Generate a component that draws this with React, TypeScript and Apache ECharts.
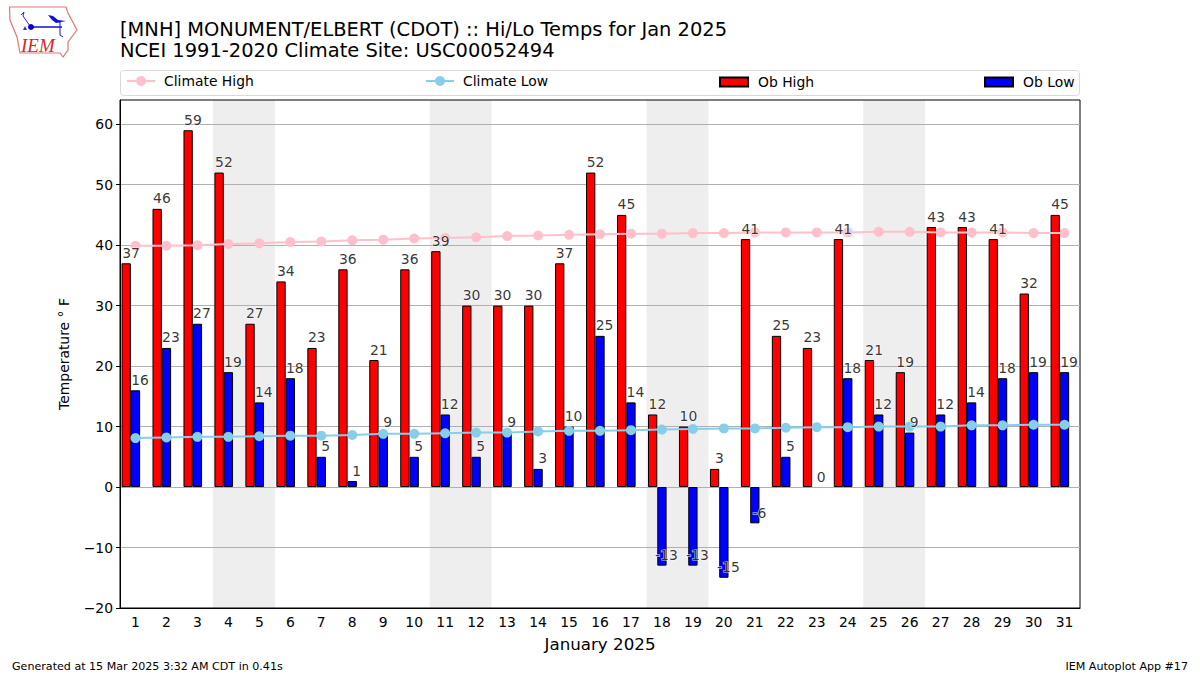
import React, { useEffect, useRef } from "react";
import * as echarts from "echarts";

const days = Array.from({ length: 31 }, (_, i) => String(i + 1));
const obHigh = [37,46,59,52,27,34,23,36,21,36,39,30,30,30,37,52,45,12,10,3,41,25,23,41,21,19,43,43,41,32,45];
const obLow = [16,23,27,19,14,18,5,1,9,5,12,5,9,3,10,25,14,-13,-13,-15,-6,5,0,18,12,9,12,14,18,19,19];
const climateHigh = [39.9,39.9,40,40.2,40.3,40.5,40.6,40.8,40.9,41.1,41.2,41.3,41.5,41.6,41.7,41.8,41.9,41.9,42,42,42.1,42.1,42.1,42.1,42.2,42.2,42.1,42.1,42.1,42,42];
const climateLow = [8.1,8.2,8.3,8.3,8.4,8.5,8.5,8.6,8.8,8.8,8.9,9,9,9.2,9.3,9.3,9.4,9.5,9.6,9.7,9.7,9.8,9.9,9.9,10,10,10,10.2,10.2,10.3,10.3];
const weekendBands = [[3.5, 5.5], [10.5, 12.5], [17.5, 19.5], [24.5, 26.5]];
const yTicks = [-20, -10, 0, 10, 20, 30, 40, 50, 60];
const titleText = "[MNH] MONUMENT/ELBERT (CDOT) :: Hi/Lo Temps for Jan 2025\nNCEI 1991-2020 Climate Site: USC00052494";
const FONT = "DejaVu Sans";

export default function App() {
  const ref = useRef<HTMLDivElement>(null);
  useEffect(() => {
    const chart = echarts.init(ref.current!, undefined, { renderer: "svg" });
    const valueLabels = (name: string, data: number[], dx: number) => ({
      name,
      type: "scatter",
      xAxisIndex: 0,
      yAxisIndex: 0,
      data,
      symbolSize: 1,
      itemStyle: { color: "transparent" },
      z: 10,
      silent: true,
      label: {
        show: true,
        position: "top",
        distance: 3,
        offset: [dx, 0],
        fontFamily: FONT,
        fontSize: 13.9,
        color: "#000",
        textBorderColor: "#fff",
        textBorderWidth: 1.2,
      },
    });
    const legendAt = (left: number, name: string, isLine: boolean) => ({
      left,
      top: isLine ? 74 : 75,
      orient: "horizontal",
      padding: 0,
      data: isLine ? [name] : [{ name, icon: "rect" }],
      itemWidth: 28,
      itemHeight: isLine ? 12.5 : 9,
      itemGap: 0,
      textStyle: { fontFamily: FONT, fontSize: 13.9, color: "#000", padding: [0, 0, 0, isLine ? 4 : 5] },
      selectedMode: false,
    });
    const barData = (values: number[]) =>
      values.map((v) => (v === 0 ? { value: v, itemStyle: { borderWidth: 0 } } : v));
    chart.setOption({
      animation: false,
      backgroundColor: "#fff",
      title: {
        text: titleText,
        left: 120,
        top: 19,
        padding: 0,
        textStyle: { fontFamily: FONT, fontSize: 19.46, fontWeight: "normal", color: "#000", lineHeight: 21 },
      },
      legend: [
        legendAt(126, "Climate High", true),
        legendAt(425, "Climate Low", true),
        legendAt(719, "Ob High", false),
        legendAt(984, "Ob Low", false),
      ],
      grid: { left: 120, top: 100, width: 960, height: 508, show: true, borderColor: "#000", borderWidth: 1, backgroundColor: "transparent" },
      xAxis: [
        {
          type: "category",
          data: days,
          position: "bottom",
          boundaryGap: true,
          name: "January 2025",
          nameLocation: "middle",
          nameGap: 27,
          nameTextStyle: { fontFamily: FONT, fontSize: 16.7, color: "#000" },
          axisLine: { onZero: false, lineStyle: { color: "#000", width: 1 } },
          axisTick: { alignWithLabel: true, length: 4, lineStyle: { color: "#000", width: 1 } },
          axisLabel: { interval: 0, margin: 7, fontFamily: FONT, fontSize: 13.9, color: "#000" },
          splitLine: { show: false },
        },
        { type: "value", show: false, min: 0.5, max: 31.5 },
      ],
      yAxis: {
        type: "value",
        min: -20,
        max: 64,
        interval: 10,
        name: "Temperature ° F",
        nameLocation: "middle",
        nameRotate: 90,
        nameGap: 49,
        nameTextStyle: { fontFamily: FONT, fontSize: 13.9, color: "#000" },
        axisLine: { show: true, onZero: false, lineStyle: { color: "#000", width: 1 } },
        axisTick: { show: true, length: 4, customValues: yTicks, lineStyle: { color: "#000", width: 1 } },
        axisLabel: {
          margin: 7,
          fontFamily: FONT,
          fontSize: 13.9,
          color: "#000",
          customValues: yTicks,
          formatter: (v: number) => (v < 0 ? "\u2212" + Math.abs(v) : String(v)),
        },
        splitLine: { show: true, lineStyle: { color: "#b0b0b0", width: 1 } },
      },
      series: [
        {
          name: "bands",
          type: "line",
          xAxisIndex: 1,
          yAxisIndex: 0,
          data: [],
          z: -1,
          silent: true,
          markArea: {
            silent: true,
            z: -1,
            itemStyle: { color: "#eeeeee" },
            data: weekendBands.map(([a, b]) => [{ xAxis: a }, { xAxis: b }]),
          },
        },
        {
          name: "Ob High",
          type: "bar",
          data: barData(obHigh),
          barWidth: 9.3,
          barGap: 0,
          z: 3,
          itemStyle: { color: "#ff0000", borderColor: "#000", borderWidth: 1 },
        },
        {
          name: "Ob Low",
          type: "bar",
          data: barData(obLow),
          barWidth: 9.3,
          barGap: 0,
          z: 3,
          itemStyle: { color: "#0000ff", borderColor: "#000", borderWidth: 1 },
        },
        {
          name: "spacer",
          type: "bar",
          data: [],
          barWidth: 9.3,
          barGap: 0,
          silent: true,
        },
        {
          name: "Climate High",
          type: "line",
          data: climateHigh,
          symbol: "circle",
          symbolSize: 10,
          z: 5,
          lineStyle: { color: "#ffc0cb", width: 2 },
          itemStyle: { color: "#ffc0cb" },
        },
        {
          name: "Climate Low",
          type: "line",
          data: climateLow,
          symbol: "circle",
          symbolSize: 10,
          z: 5,
          lineStyle: { color: "#87ceeb", width: 2 },
          itemStyle: { color: "#87ceeb" },
        },
        valueLabels("High labels", obHigh, -4.5),
        valueLabels("Low labels", obLow, 4.5),
      ],
      graphic: [
        {
          type: "rect",
          silent: true,
          z: -10,
          shape: { x: 120.5, y: 70.5, width: 959, height: 25, r: 3 },
          style: { fill: "#fff", stroke: "#d9d9d9", lineWidth: 1 },
        },
        {
          type: "polygon",
          silent: true,
          shape: { points: [[9.5,7],[66,7],[68,13],[77,30],[68,42],[68,50],[63,57],[60,53],[20,53],[17,37],[10,20]] },
          style: { fill: "#fff", stroke: "#e07878", lineWidth: 1.2 },
        },
        { type: "polyline", silent: true, shape: { points: [[21,15],[24,12],[23,16],[30,26]] }, style: { fill: "none", stroke: "#2222dd", lineWidth: 1 } },
        { type: "line", silent: true, shape: { x1: 31, y1: 27, x2: 62, y2: 27 }, style: { stroke: "#1111dd", lineWidth: 1.5 } },
        { type: "polyline", silent: true, shape: { points: [[58,22],[60,22],[60,35],[63,37]] }, style: { fill: "none", stroke: "#1111dd", lineWidth: 1 } },
        { type: "polygon", silent: true, shape: { points: [[48,15],[53,16],[58,20],[66,21],[56,23],[52,20]] }, style: { fill: "#1111cc" } },
        { type: "circle", silent: true, shape: { cx: 31, cy: 27, r: 3 }, style: { fill: "#0000cc" } },
        { type: "polygon", silent: true, shape: { points: [[25,26],[23,30],[27,30]] }, style: { fill: "#3333cc" } },
        {
          type: "text",
          silent: true,
          x: 21,
          y: 36,
          style: { text: "IEM", fontFamily: "Liberation Serif", fontStyle: "italic", fontSize: 19, fill: "#d42a2a" },
        },
        {
          type: "text",
          silent: true,
          x: 12,
          y: 661,
          style: { text: "Generated at 15 Mar 2025 3:32 AM CDT in 0.41s", fontFamily: FONT, fontSize: 11.1, fill: "#000" },
        },
        {
          type: "text",
          silent: true,
          x: 1188,
          y: 661,
          style: { text: "IEM Autoplot App #17", fontFamily: FONT, fontSize: 11.1, fill: "#000", align: "right" },
        },
      ],
    });
    return () => chart.dispose();
  }, []);
  return <div ref={ref} style={{ position: "absolute", left: 0, top: 0, width: 1200, height: 675 }} />;
}
